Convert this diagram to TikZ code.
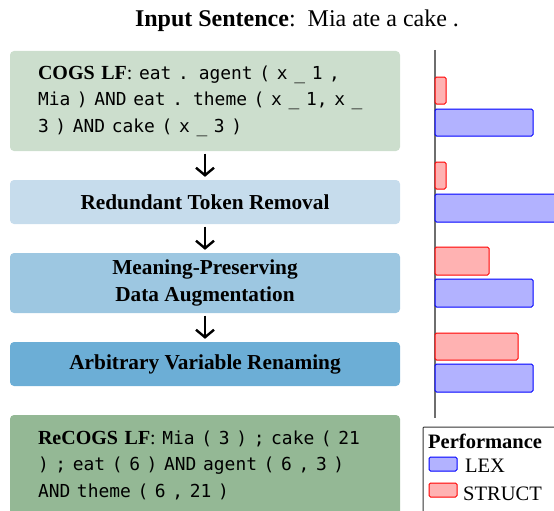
\documentclass[tikz,border=0pt]{standalone}
\usepackage{fontspec}
\setmainfont{Liberation Serif}
\setmonofont[Scale=0.895]{DejaVu Sans Mono}
\usetikzlibrary{arrows.meta}
\definecolor{cogsfill}{HTML}{CCDECD}
\definecolor{rtrfill}{HTML}{C6DCEC}
\definecolor{mpdafill}{HTML}{9DC7E1}
\definecolor{avrfill}{HTML}{6CAED6}
\definecolor{recogsfill}{HTML}{94B895}
\definecolor{axisgray}{HTML}{6E6E6E}
\begin{document}
\begin{tikzpicture}[x=1pt,y=-1pt,
  box/.style={rounded corners=4pt, minimum width=390pt, inner sep=0pt, align=center,
    font=\fontsize{21.3}{27}\selectfont\bfseries},
  lfbox/.style={box, text width=334pt, align=left, font=\fontsize{20}{26.5}\selectfont},
  arr/.style={line width=2.4pt, -{Straight Barb[length=7.5pt,width=18pt,line width=2.4pt]},
    shorten <=2.5pt, shorten >=3pt},
  redbar/.style={draw=red, fill=red!30, line width=1pt, rounded corners=1.5pt},
  bluebar/.style={draw=blue, fill=blue!30, line width=1pt, rounded corners=1.5pt},
  legtext/.style={font=\fontsize{20.5}{24}\selectfont, inner sep=0pt}
]
\useasboundingbox (0,0) rectangle (554,511);
\clip (0,0) rectangle (554,511);

% title
\node[font=\fontsize{24}{28}\selectfont, inner sep=0pt] (title) at (297,21)
  {\textbf{Input Sentence}:\ \ Mia ate a cake .};

% pipeline boxes
\node[lfbox, fill=cogsfill, minimum height=100pt] (cogs) at (205,101)
  {{\bfseries COGS LF}: \texttt{eat . agent ( x \_ 1 ,}\\
   \texttt{Mia ) AND eat . theme ( x \_ 1, x \_}\\
   \texttt{3 ) AND cake ( x \_ 3 )}};
\node[box, fill=rtrfill, minimum height=44pt] (rtr) at (205,202) {Redundant Token Removal};
\node[box, fill=mpdafill, minimum height=60pt] (mpda) at (205,283)
  {Meaning-Preserving\\Data Augmentation};
\node[box, fill=avrfill, minimum height=44pt] (avr) at (205,364) {Arbitrary Variable Renaming};
\node[lfbox, fill=recogsfill, minimum height=100pt] (recogs) at (205,465)
  {{\bfseries ReCOGS LF}: \texttt{Mia ( 3 ) ; cake ( 21}\\
   \texttt{) ; eat ( 6 ) AND agent ( 6 , 3 )}\\
   \texttt{AND theme ( 6 , 21 )}};

\draw[arr] (cogs) -- (rtr);
\draw[arr] (rtr) -- (mpda);
\draw[arr] (mpda) -- (avr);

% bar chart
\draw[axisgray, line width=1.4pt] (435,50) -- (435,418);
\draw[redbar]  (435,77)  rectangle (446,104);
\draw[bluebar] (435,109) rectangle (533,136);
\draw[redbar]  (435,162) rectangle (446,189);
\draw[bluebar] (435,194) rectangle (560,222);
\draw[redbar]  (435,247) rectangle (489,275);
\draw[bluebar] (435,279) rectangle (533,307);
\draw[redbar]  (435,333) rectangle (518,360);
\draw[bluebar] (435,364) rectangle (533,392);

% legend
\draw[line width=1pt, draw=black!80, rounded corners=1pt] (423,427) rectangle (580,540);
\node[legtext, font=\fontsize{20.5}{24}\selectfont\bfseries, anchor=west] (perf) at (428,441) {Performance};
\draw[bluebar] (429,457) rectangle (457,471);
\node[legtext] (lex) at (485,466) {LEX};
\draw[redbar] (429,483) rectangle (457,497);
\node[legtext, anchor=west] (struct) at (463,494) {STRUCT};
\end{tikzpicture}
\end{document}
